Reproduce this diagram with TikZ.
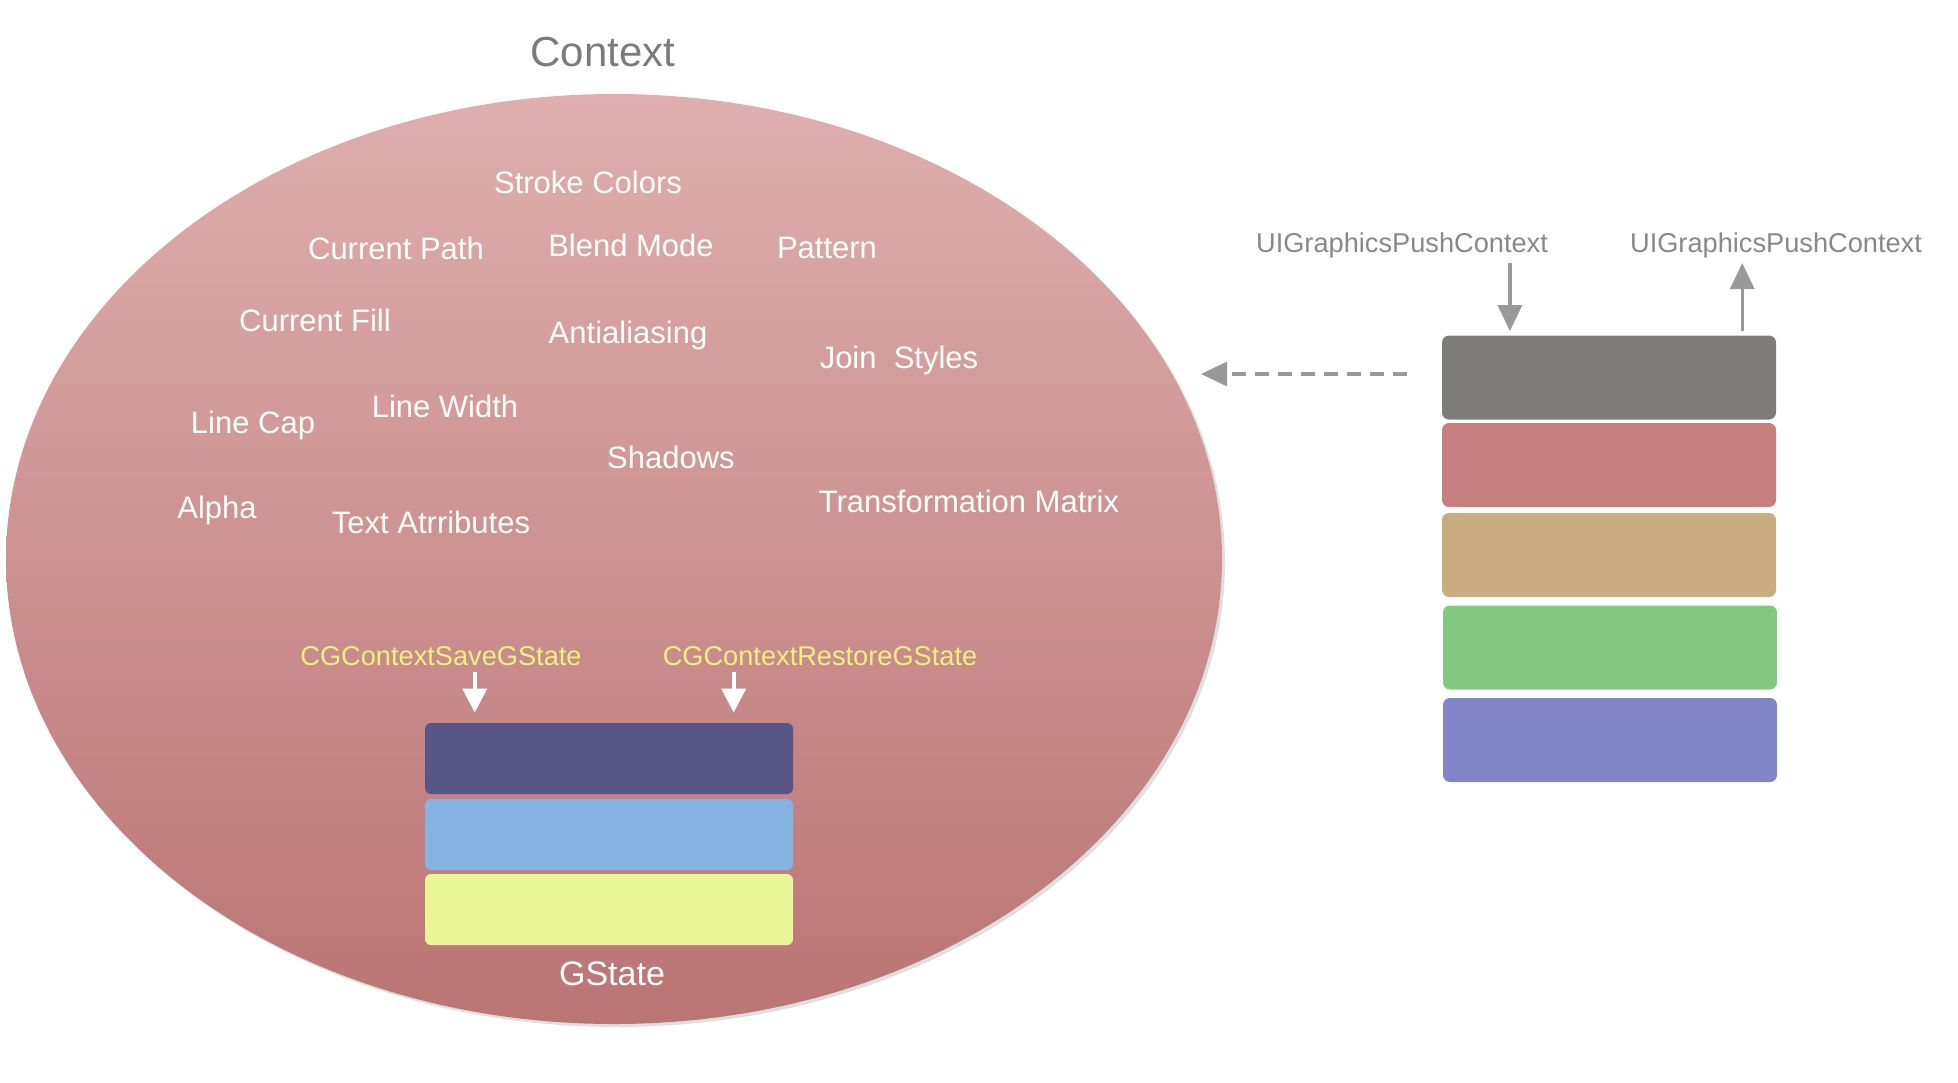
\documentclass[tikz,border=0pt]{standalone}
\usepackage{fontspec}
\setmainfont{Liberation Sans}
\usetikzlibrary{arrows.meta,shapes.geometric,shadows,calc}
\definecolor{ctxtop}{HTML}{DFAEAE}
\definecolor{ctxbot}{HTML}{BA7574}
\definecolor{gsA}{HTML}{585687}
\definecolor{gsB}{HTML}{85B4E3}
\definecolor{gsC}{HTML}{E9F697}
\definecolor{stA}{HTML}{7D7C7A}
\definecolor{stB}{HTML}{C87F7F}
\definecolor{stC}{HTML}{C9AD80}
\definecolor{stD}{HTML}{84C981}
\definecolor{stE}{HTML}{8185C7}
\definecolor{yeltext}{HTML}{EFF17D}
\definecolor{titlegray}{HTML}{7B7B7B}
\definecolor{labgray}{HTML}{888888}
\definecolor{arrgray}{HTML}{999999}
\tikzset{
  prop/.style={text=white, font=\fontsize{15.5}{18}\selectfont, inner sep=0pt},
  fn/.style={text=yeltext, font=\fontsize{13.6}{16}\selectfont, inner sep=0pt},
  ui/.style={text=labgray, font=\fontsize{13.6}{16}\selectfont, inner sep=0pt},
  gsbox/.style={rounded corners=3pt, minimum width=184pt, minimum height=35.5pt, inner sep=0pt},
  stbox/.style={rounded corners=3.5pt, minimum width=167pt, minimum height=42pt, inner sep=0pt},
  warrow/.style={white, line width=2pt, -{Triangle[length=12pt,width=12pt]}},
  garrow/.style={arrgray, line width=1.6pt, -{Triangle[length=13pt,width=12pt]}},
}
\begin{document}
\begin{tikzpicture}[x=0.5pt,y=-0.5pt]
\useasboundingbox (0,0) rectangle (1958,1082);

\node (title) [text=titlegray, font=\fontsize{21}{24}\selectfont, inner sep=0pt] at (603,52) {Context};

\node (ctx) [ellipse, minimum width=608pt, minimum height=465pt, inner sep=0pt,
  top color=ctxtop, bottom color=ctxbot,
  drop shadow={shadow xshift=1.5pt, shadow yshift=-1.5pt, opacity=0.25}] at (614,559) {};

\node (p1) [prop] at (588,182) {Stroke Colors};
\node (p2) [prop] at (396,248) {Current Path};
\node (p3) [prop] at (631,245) {Blend Mode};
\node (p4) [prop] at (827,248) {Pattern};
\node (p5) [prop] at (315,320) {Current Fill};
\node (p6) [prop] at (628,335) {Antialiasing};
\node (p7) [prop] at (899,360) {Join\ \ Styles};
\node (p8) [prop] at (445,406) {Line Width};
\node (p9) [prop] at (253,425) {Line Cap};
\node (p10) [prop] at (671,457) {Shadows};
\node (p11) [prop] at (217,510) {Alpha};
\node (p12) [prop] at (431,522) {Text Atrributes};
\node (p13) [prop] at (969,501) {Transformation Matrix};

\node (save) [fn] at (441,656) {CGContextSaveGState};
\node (restore) [fn] at (820,656) {CGContextRestoreGState};

\node (g1) [gsbox, fill=gsA] at (609,758.5) {};
\node (g2) [gsbox, fill=gsB] at (609,834.5) {};
\node (g3) [gsbox, fill=gsC] at (609,909.5) {};
\node (gst) [text=white, font=\fontsize{17}{20}\selectfont, inner sep=0pt] at (612,974) {GState};

\coordinate (sv) at ($(g1.north west)!0.136!(g1.north east)$);
\coordinate (rs) at ($(g1.north west)!0.838!(g1.north east)$);
\draw[warrow, shorten <=3pt, shorten >=5pt] (save.south -| sv) -- (sv);
\draw[warrow, shorten <=3pt, shorten >=5pt] (restore.south -| rs) -- (rs);

\node (s1) [stbox, fill=stA] at (1609,377.5) {};
\node (s2) [stbox, fill=stB] at (1609,465) {};
\node (s3) [stbox, fill=stC] at (1609,555) {};
\node (s4) [stbox, fill=stD] at (1610,647.5) {};
\node (s5) [stbox, fill=stE] at (1610,740) {};

\node (ui1) [ui] at (1402,245) {UIGraphicsPushContext};
\node (ui2) [ui] at (1776,245) {UIGraphicsPushContext};

\coordinate (pin) at ($(s1.north west)!0.204!(s1.north east)$);
\coordinate (pout) at ($(s1.north west)!0.898!(s1.north east)$);
\draw[garrow, shorten <=2.5pt, shorten >=2pt] (ui1.south -| pin) -- (pin);
\draw[garrow, shorten <=2pt, shorten >=2.5pt] (pout) -- (ui2.south -| pout);

\coordinate (dtip) at (1201,374);
\draw[garrow, dashed, dash pattern=on 7pt off 4.5pt, shorten <=17.5pt]
  (s1.west |- dtip) -- (dtip);
\end{tikzpicture}
\end{document}
